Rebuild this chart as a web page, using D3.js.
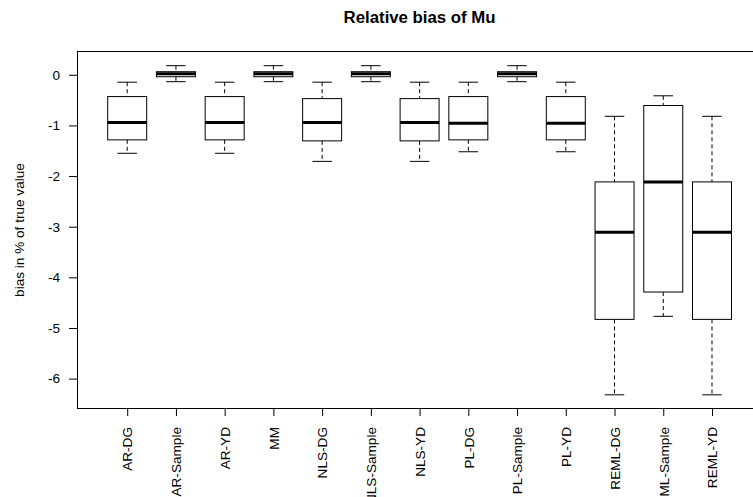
<!DOCTYPE html>
<html>
<head>
<meta charset="utf-8">
<script src="https://cdn.jsdelivr.net/npm/d3@7"></script>
<style>
    html, body { margin: 0; padding: 0; background: #fff; }
    svg { display: block; font-family: "Liberation Sans", Arial, sans-serif; }
</style>
</head>
<body>
<svg id="canvas" width="753" height="497"></svg>
<script>
// data
var categories = ["AR-DG", "AR-Sample", "AR-YD", "MM", "NLS-DG", "NLS-Sample", "NLS-YD",
                  "PL-DG", "PL-Sample", "PL-YD", "REML-DG", "REML-Sample", "REML-YD"];
var whiskerLow  = [-1.55, -0.136, -1.55, -0.136, -1.71, -0.136, -1.71, -1.52, -0.136, -1.52, -6.32, -4.77, -6.32];
var lowerQuart  = [-1.285, -0.038, -1.285, -0.038, -1.305, -0.038, -1.305, -1.285, -0.038, -1.285, -4.83, -4.29, -4.83];
var medians     = [-0.94, 0.022, -0.94, 0.022, -0.94, 0.022, -0.94, -0.956, 0.022, -0.956, -3.11, -2.115, -3.11];
var upperQuart  = [-0.43, 0.061, -0.43, 0.061, -0.47, 0.061, -0.47, -0.43, 0.061, -0.43, -2.115, -0.607, -2.115];
var whiskerHigh = [-0.146, 0.18, -0.146, 0.18, -0.146, 0.18, -0.146, -0.146, 0.18, -0.146, -0.82, -0.415, -0.82];
var yTicks = [0, -1, -2, -3, -4, -5, -6];

var chartTitle = "Relative bias of Mu",
    yTitle = "bias in % of true value";

var boxes = categories.map(function(c, i) {
    return { name: c, pos: i + 1, lo: whiskerLow[i], q1: lowerQuart[i],
             med: medians[i], q3: upperQuart[i], hi: whiskerHigh[i] };
});

// plot region (R style: 4% padding around the data range)
var plotLeft = 77.5, plotRight = 761.7, plotTop = 51.5, plotBottom = 408.5,
    n = categories.length,
    xPad = n * 0.04;

var x = d3.scaleLinear().domain([0.5 - xPad, n + 0.5 + xPad]).range([plotLeft, plotRight]),
    y = d3.scaleLinear().domain([-6.59, 0.46]).range([plotBottom, plotTop]);

var step = x(2) - x(1),
    boxW = step * 0.8,
    capW = boxW * 0.5;

var svg = d3.select('#canvas'),
    fontSize = 13.6;

// title
svg.append('text')
    .attr('x', (plotLeft + plotRight) / 2)
    .attr('y', 23)
    .attr('text-anchor', 'middle')
    .style('font-weight', 'bold')
    .style('font-size', '16.8px')
    .text(chartTitle);

// y axis title
svg.append('text')
    .attr('transform', 'translate(19,' + (plotTop + plotBottom) / 2 + ') rotate(-90)')
    .attr('text-anchor', 'middle')
    .attr('dy', '0.35em')
    .style('font-size', fontSize + 'px')
    .text(yTitle);

// y axis (plain hyphen minus, like R)
var yAxis = svg.append('g')
    .attr('transform', 'translate(' + plotLeft + ',0)')
    .call(d3.axisLeft(y).tickValues(yTicks).tickSize(8.5).tickPadding(9)
        .tickFormat(function(d) { return String(d); }));
yAxis.select('.domain').remove();
yAxis.selectAll('text').style('font-size', fontSize + 'px').attr('fill', '#000')
    .style('font-family', 'inherit');
yAxis.selectAll('line').attr('stroke', '#000');

// x axis
var xAxis = svg.append('g')
    .attr('transform', 'translate(0,' + plotBottom + ')')
    .call(d3.axisBottom(x).tickValues(d3.range(1, n + 1)).tickSize(7.5)
        .tickFormat(function(d) { return categories[d - 1]; }));
xAxis.select('.domain').remove();
xAxis.selectAll('line').attr('stroke', '#000');
xAxis.selectAll('text')
    .style('font-size', fontSize + 'px')
    .style('font-family', 'inherit')
    .attr('fill', '#000')
    .attr('text-anchor', 'end')
    .attr('x', 0)
    .attr('y', 0)
    .attr('dy', '0.35em')
    .attr('transform', 'translate(0,18.5) rotate(-90)');

// boxes
var g = svg.append('g').attr('class', 'boxes')
    .selectAll('g').data(boxes).enter().append('g');

// whiskers, dashed
g.append('line')
    .attr('x1', function(d) { return x(d.pos); })
    .attr('x2', function(d) { return x(d.pos); })
    .attr('y1', function(d) { return y(d.hi); })
    .attr('y2', function(d) { return y(d.q3); })
    .attr('stroke', '#000').attr('stroke-dasharray', '4,3');
g.append('line')
    .attr('x1', function(d) { return x(d.pos); })
    .attr('x2', function(d) { return x(d.pos); })
    .attr('y1', function(d) { return y(d.q1); })
    .attr('y2', function(d) { return y(d.lo); })
    .attr('stroke', '#000').attr('stroke-dasharray', '4,3');

// staples
['hi', 'lo'].forEach(function(k) {
    g.append('line')
        .attr('x1', function(d) { return x(d.pos) - capW / 2; })
        .attr('x2', function(d) { return x(d.pos) + capW / 2; })
        .attr('y1', function(d) { return y(d[k]); })
        .attr('y2', function(d) { return y(d[k]); })
        .attr('stroke', '#000');
});

// box
g.append('rect')
    .attr('x', function(d) { return x(d.pos) - boxW / 2; })
    .attr('y', function(d) { return y(d.q3); })
    .attr('width', boxW)
    .attr('height', function(d) { return y(d.q1) - y(d.q3); })
    .attr('fill', '#fff')
    .attr('stroke', '#000');

// median
g.append('line')
    .attr('x1', function(d) { return x(d.pos) - boxW / 2; })
    .attr('x2', function(d) { return x(d.pos) + boxW / 2; })
    .attr('y1', function(d) { return y(d.med); })
    .attr('y2', function(d) { return y(d.med); })
    .attr('stroke', '#000')
    .attr('stroke-width', 3);

// frame
svg.append('rect')
    .attr('x', plotLeft).attr('y', plotTop)
    .attr('width', plotRight - plotLeft).attr('height', plotBottom - plotTop)
    .attr('fill', 'none').attr('stroke', '#000');
</script>
</body>
</html>
